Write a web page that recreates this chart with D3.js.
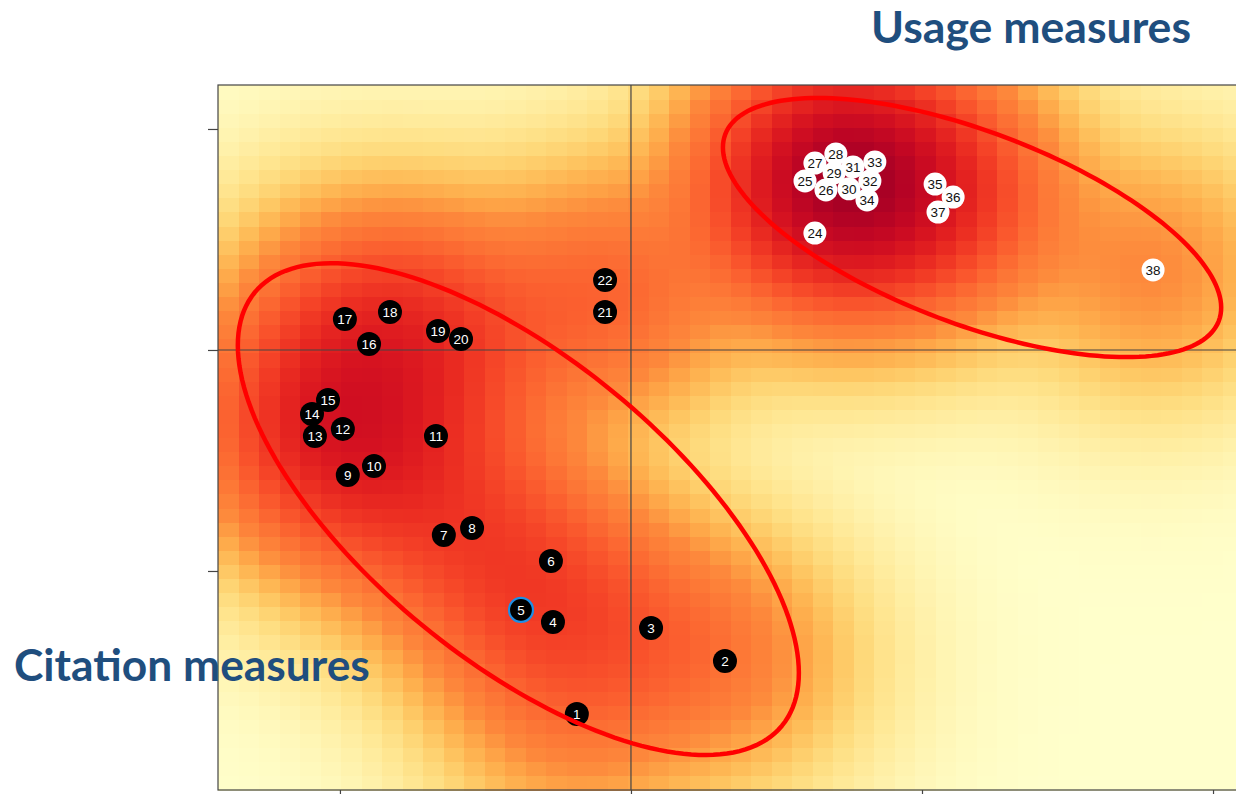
<!DOCTYPE html>
<html>
<head>
<meta charset="utf-8">
<script src="https://cdn.jsdelivr.net/npm/d3@7"></script>
<style>
html, body { margin: 0; padding: 0; background: #fff; }
svg { display: block; }
</style>
</head>
<body>
<svg id="chart" width="1236" height="794"></svg>
<script>
// point ids and their map coordinates
var ids = [1, 2, 3, 4, 5, 6, 7, 8, 9, 10, 11, 12, 13, 14, 15, 16, 17, 18, 19, 20, 21, 22,
           24, 25, 26, 27, 28, 29, 30, 31, 32, 33, 34, 35, 36, 37, 38];
var xs = [-0.186, 0.323, 0.069, -0.268, -0.378, -0.275, -0.643, -0.546, -0.973, -0.883, -0.670,
          -0.990, -1.086, -1.096, -1.041, -0.900, -0.983, -0.828, -0.663, -0.584, -0.089, -0.089,
          0.632, 0.598, 0.670, 0.632, 0.704, 0.698, 0.749, 0.763, 0.821, 0.838, 0.811, 1.045, 1.107, 1.055, 1.794];
var ys = [-1.647, -1.407, -1.258, -1.231, -1.176, -0.955, -0.837, -0.805, -0.566, -0.525, -0.389,
          -0.357, -0.389, -0.290, -0.226, 0.027, 0.140, 0.172, 0.086, 0.050, 0.172, 0.317,
          0.529, 0.765, 0.724, 0.846, 0.887, 0.801, 0.729, 0.828, 0.765, 0.851, 0.679, 0.751, 0.692, 0.624, 0.362];
var usageFrom = 24;      // ids from here on are usage measures (white dots)
var highlighted = [5];   // ringed in blue

var xTicks = [-1, 0, 1, 2];
var yTicks = [-1, 0, 1];

// ellipses: centre and two conjugate semi-axes, in data units
var ellCx = [-0.387, 1.172];
var ellCy = [-0.720, 0.554];
var ellU = [[0.906, -0.980], [0.848, -0.422]];
var ellV = [[-0.329, -0.527], [-0.117, -0.407]];

var titles = ["Usage measures", "Citation measures"];

var svg = d3.select("#chart");
var margin = {top: 85, left: 218, bottom: 4, right: -7};
var W = 1236, H = 794;

var xDom = [-1.419, 2.103], yDom = [-1.991, 1.199];
var x = d3.scaleLinear().domain(xDom).range([margin.left, W - margin.right]);
var y = d3.scaleLinear().domain(yDom).range([H - margin.bottom, margin.top]);

// density of the points on a 50x50 grid
var nx = 50, ny = 50;
var bwx = 0.25, bwy = 0.31;
function dens(px, py) {
  var d = 0;
  for (var k = 0; k < xs.length; k++) {
    var ux = (px - xs[k]) / bwx, uy = (py - ys[k]) / bwy;
    d += Math.exp(-0.5 * (ux * ux + uy * uy));
  }
  return d;
}
var cw = (xDom[1] - xDom[0]) / nx, ch = (yDom[1] - yDom[0]) / ny;
var cells = [];
for (var i = 0; i < nx; i++) {
  for (var j = 0; j < ny; j++) {
    var d = dens(xDom[0] + (i + 0.5) * cw, yDom[0] + (j + 0.5) * ch);
    cells.push({x0: xDom[0] + i * cw, y0: yDom[0] + j * ch, d: d});
  }
}
// colour: relative to the density at the lone point 38
var ref = dens(xs[xs.length - 1], ys[ys.length - 1]);
var smax = d3.max(cells, function(c) { return c.d; }) / ref;
var color = function(v) {
  var s = v / ref, t;
  if (s < 1) t = 0.5 * Math.pow(s, 0.42);
  else t = 0.5 + 0.43 * (Math.sqrt(s) - 1) / (Math.sqrt(smax) - 1);
  return d3.interpolateYlOrRd(t);
};

var plot = svg.append("g");
plot.selectAll("rect.cell")
  .data(cells)
  .enter().append("rect")
    .attr("class", "cell")
    .attr("x", function(c) { return x(c.x0); })
    .attr("y", function(c) { return y(c.y0 + ch); })
    .attr("width", function(c) { return x(c.x0 + cw) - x(c.x0) + 0.5; })
    .attr("height", function(c) { return y(c.y0) - y(c.y0 + ch) + 0.5; })
    .attr("fill", function(c) { return color(c.d); })
    .attr("shape-rendering", "crispEdges");

// frame and zero lines
svg.append("rect")
  .attr("x", x(xDom[0])).attr("y", y(yDom[1]))
  .attr("width", x(xDom[1]) - x(xDom[0])).attr("height", y(yDom[0]) - y(yDom[1]))
  .attr("fill", "none").attr("stroke", "#444").attr("stroke-width", 1.2);
svg.append("line")
  .attr("x1", x(0)).attr("x2", x(0)).attr("y1", y(yDom[0])).attr("y2", y(yDom[1]))
  .attr("stroke", "#444").attr("stroke-width", 1.2);
svg.append("line")
  .attr("x1", x(xDom[0])).attr("x2", x(xDom[1])).attr("y1", y(0)).attr("y2", y(0))
  .attr("stroke", "#444").attr("stroke-width", 1.2);

var yAxis = svg.append("g")
  .attr("transform", "translate(" + x(xDom[0]) + ",0)")
  .call(d3.axisLeft(y).tickValues(yTicks).tickSize(10).tickFormat(""));
var xAxis = svg.append("g")
  .attr("transform", "translate(0," + y(yDom[0]) + ")")
  .call(d3.axisBottom(x).tickValues(xTicks).tickSize(10).tickFormat(""));
svg.selectAll(".domain").remove();
svg.selectAll(".tick line").attr("stroke", "#444").attr("stroke-width", 1.2);

// points
var pts = ids.map(function(id, i) { return {id: id, x: xs[i], y: ys[i]}; });
var pg = svg.append("g");
pg.selectAll("circle")
  .data(pts)
  .enter().append("circle")
    .attr("cx", function(p) { return x(p.x); })
    .attr("cy", function(p) { return y(p.y); })
    .attr("r", function(p) { return p.id >= usageFrom ? 11.5 : 12; })
    .attr("fill", function(p) { return p.id >= usageFrom ? "#fff" : "#000"; })
    .attr("stroke", function(p) { return highlighted.indexOf(p.id) >= 0 ? "#1e8fe6" : "none"; })
    .attr("stroke-width", 2.2);
pg.selectAll("text")
  .data(pts)
  .enter().append("text")
    .attr("x", function(p) { return x(p.x); })
    .attr("y", function(p) { return y(p.y); })
    .attr("dy", "0.36em")
    .attr("text-anchor", "middle")
    .attr("font-family", "Liberation Sans, Arial, sans-serif")
    .attr("font-size", 13.5)
    .attr("fill", function(p) { return p.id >= usageFrom ? "#111" : "#fff"; })
    .text(function(p) { return p.id; });

// ellipses
var ellLine = d3.line().curve(d3.curveLinearClosed);
var angles = d3.range(0, 2 * Math.PI, Math.PI / 90);
ellCx.forEach(function(ecx, e) {
  var ring = angles.map(function(a) {
    return [x(ecx + ellU[e][0] * Math.cos(a) + ellV[e][0] * Math.sin(a)),
            y(ellCy[e] + ellU[e][1] * Math.cos(a) + ellV[e][1] * Math.sin(a))];
  });
  svg.append("path")
    .attr("d", ellLine(ring))
    .attr("fill", "none")
    .attr("stroke", "#ff0000")
    .attr("stroke-width", 4.5);
});

// titles
var tUsage = svg.append("text")
  .attr("x", 1191).attr("y", 43)
  .attr("text-anchor", "end")
  .attr("font-family", "Lato, 'Open Sans', sans-serif")
  .attr("font-weight", "bold")
  .attr("font-size", 40)
  .attr("fill", "#1f4e7e")
  .text(titles[0]);
var tCit = svg.append("text")
  .attr("x", 14).attr("y", 681)
  .attr("font-family", "Lato, 'Open Sans', sans-serif")
  .attr("font-weight", "bold")
  .attr("font-size", 40)
  .attr("fill", "#1f4e7e")
  .text(titles[1]);
// fit title widths
[[tUsage, 320], [tCit, 356]].forEach(function(p) {
  var w = p[0].node().getComputedTextLength();
  p[0].attr("font-size", 40 * p[1] / w);
});
</script>
</body>
</html>
